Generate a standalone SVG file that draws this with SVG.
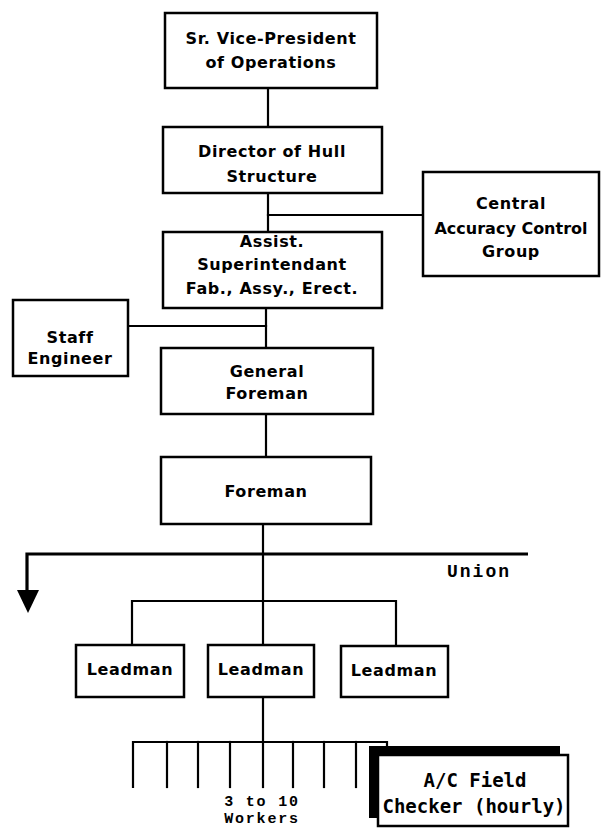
<svg xmlns="http://www.w3.org/2000/svg" width="608" height="828" viewBox="0 0 608 828">
  <style>
    .box { fill: #fff; stroke: #000; stroke-width: 2.5; }
    .ln { fill: none; stroke: #000; stroke-width: 2.2; stroke-linecap: square; }
    .thick { fill: none; stroke: #000; stroke-width: 3.2; }
    .t { font-family: "DejaVu Sans", "Liberation Sans", sans-serif; font-weight: bold; font-size: 16px; text-anchor: middle; fill: #000; letter-spacing: 0.6px; }
    .m { font-family: "Liberation Mono", "Courier New", monospace; font-weight: bold; font-size: 18px; fill: #000; }
    .w { font-family: "Liberation Mono", "Courier New", monospace; font-weight: bold; font-size: 15px; fill: #000; text-anchor: middle; letter-spacing: 1.8px; }
    .am { font-family: "DejaVu Sans Mono", "Liberation Mono", monospace; font-weight: bold; font-size: 19px; text-anchor: middle; fill: #000; }
  </style>

  <!-- connectors -->
  <g id="connectors">
    <line class="ln" x1="268" y1="88" x2="268" y2="127"/>
    <line class="ln" x1="268" y1="193" x2="268" y2="232"/>
    <line class="ln" x1="268" y1="215" x2="423" y2="215"/>
    <line class="ln" x1="266" y1="308" x2="266" y2="348"/>
    <line class="ln" x1="128" y1="326" x2="266" y2="326"/>
    <line class="ln" x1="266" y1="414" x2="266" y2="457"/>
    <line class="ln" x1="263" y1="524" x2="263" y2="645"/>
    <!-- union boundary with downward arrow -->
    <polyline class="thick" points="528,554 27,554 27,592"/>
    <polygon points="17,590 39,590 28,613" fill="#000"/>
    <!-- leadman bracket -->
    <polyline class="ln" points="132,645 132,601 396,601 396,645"/>
    <!-- workers comb -->
    <line class="ln" x1="263" y1="697" x2="263" y2="742"/>
    <polyline class="ln" points="133,787 133,742 387,742 387,747"/>
    <line class="ln" x1="167" y1="742" x2="167" y2="787"/>
    <line class="ln" x1="198" y1="742" x2="198" y2="787"/>
    <line class="ln" x1="230" y1="742" x2="230" y2="787"/>
    <line class="ln" x1="263" y1="742" x2="263" y2="787"/>
    <line class="ln" x1="293" y1="742" x2="293" y2="787"/>
    <line class="ln" x1="324" y1="742" x2="324" y2="787"/>
    <line class="ln" x1="356" y1="742" x2="356" y2="787"/>
  </g>

  <g id="sr-vp">
    <rect class="box" x="165" y="13" width="212" height="75"/>
    <text class="t" x="271" y="44">Sr. Vice-President</text>
    <text class="t" x="271" y="68">of Operations</text>
  </g>

  <g id="director">
    <rect class="box" x="163" y="127" width="219" height="66"/>
    <text class="t" x="272" y="157">Director of Hull</text>
    <text class="t" x="272" y="182">Structure</text>
  </g>

  <g id="central-ac">
    <rect class="box" x="423" y="172" width="176" height="104"/>
    <text class="t" x="511" y="209">Central</text>
    <text class="t" x="511" y="234" style="letter-spacing:0">Accuracy Control</text>
    <text class="t" x="511" y="257">Group</text>
  </g>

  <g id="assist-super">
    <rect class="box" x="163" y="232" width="219" height="76"/>
    <text class="t" x="272" y="247">Assist.</text>
    <text class="t" x="272" y="270">Superintendant</text>
    <text class="t" x="272" y="294">Fab., Assy., Erect.</text>
  </g>

  <g id="staff-engineer">
    <rect class="box" x="13" y="300" width="115" height="76"/>
    <text class="t" x="70" y="343">Staff</text>
    <text class="t" x="70" y="364">Engineer</text>
  </g>

  <g id="general-foreman">
    <rect class="box" x="161" y="348" width="212" height="66"/>
    <text class="t" x="267" y="377">General</text>
    <text class="t" x="267" y="399">Foreman</text>
  </g>

  <g id="foreman">
    <rect class="box" x="161" y="457" width="210" height="67"/>
    <text class="t" x="266" y="497">Foreman</text>
  </g>

  <g id="union-label">
    <text class="m" x="447" y="577" style="letter-spacing:2px">Union</text>
  </g>

  <g id="leadman-1">
    <rect class="box" x="76" y="645" width="108" height="52"/>
    <text class="t" x="130" y="675">Leadman</text>
  </g>
  <g id="leadman-2">
    <rect class="box" x="208" y="645" width="106" height="52"/>
    <text class="t" x="261" y="675">Leadman</text>
  </g>
  <g id="leadman-3">
    <rect class="box" x="341" y="646" width="107" height="51"/>
    <text class="t" x="394" y="676">Leadman</text>
  </g>

  <g id="workers-label">
    <text class="w" x="262" y="806">3 to 10</text>
    <text class="w" x="262" y="823">Workers</text>
  </g>

  <g id="ac-field-checker">
    <rect x="369" y="746" width="191" height="72" fill="#000"/>
    <rect class="box" x="378" y="755" width="190" height="71" stroke-width="2"/>
    <text class="am" x="475" y="787">A/C Field</text>
    <text class="am" x="474" y="813">Checker (hourly)</text>
  </g>
</svg>
